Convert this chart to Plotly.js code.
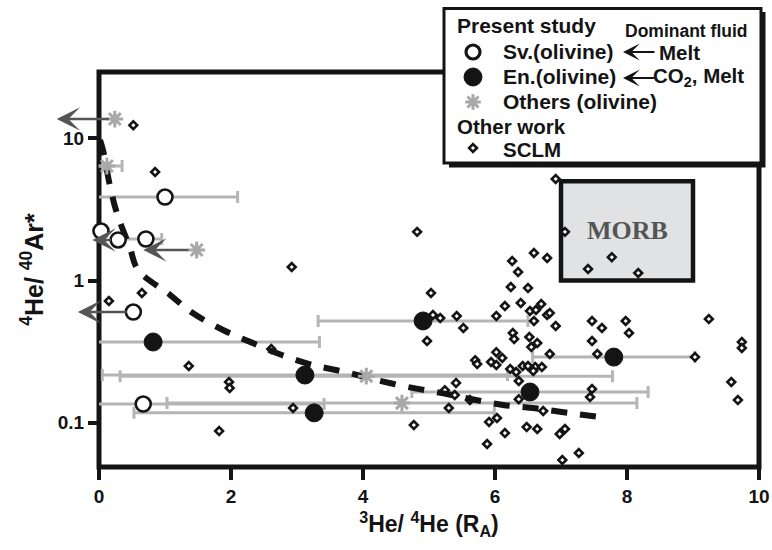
<!DOCTYPE html>
<html>
<head>
<meta charset="utf-8">
<script src="https://cdn.plot.ly/plotly-3.0.1.min.js"></script>
<style>html,body{margin:0;padding:0;background:#fff;}#chart{width:772px;height:550px;}</style>
</head>
<body>
<div id="chart"></div>
<script>
// ---------- DATA ----------
// Present study: Sv.(olivine)  open circles
const svX = [1.0, 0.03, 0.29, 0.71, 0.52, 0.67];
const svY = [3.87, 2.23, 1.93, 1.96, 0.60, 0.135];
const svErrPlus  = [1.1, 0, 0, 0.24, 0, 2.74];
const svErrMinus = [1.1, 0, 0, 0.44, 0, 2.74];

// Present study: En.(olivine)  filled circles
const enX = [0.82, 3.12, 3.26, 4.91, 6.53, 7.80];
const enY = [0.369, 0.216, 0.117, 0.519, 0.164, 0.289];
const enErr = [2.52, 3.07, 2.73, 1.59, 1.79, 1.23];

// Present study: Others (olivine)  asterisks
const othX = [0.24, 0.12, 1.48, 4.05, 4.59];
const othY = [13.7, 6.4, 1.64, 0.212, 0.137];
const othErr = [0, 0.23, 0, 3.73, 3.56];

// Upper-limit arrows (3He/4He upper limits)
const arrowY     = [13.7, 1.64, 0.60, 1.93];
const arrowFromX = [0.17, 1.38, 0.44, 0.20];
const arrowToX   = [-0.64, 0.67, -0.32, -0.10];

// Other work: SCLM
const sclmX = [0.52,0.85,0.15,0.65,1.36,1.97,1.98,1.82,2.92,4.82,2.61,2.94,
  5.03,5.06,5.17,5.42,5.52,4.97,6.02,4.77,
  6.24,6.50,6.15,6.39,6.53,6.62,6.70,6.59,6.79,
  6.59,6.79,6.26,6.35,
  6.27,6.29,6.52,6.64,6.55,
  5.70,5.73,6.02,5.94,6.11,6.02,6.23,6.32,6.42,6.50,6.61,6.71,6.58,
  6.36,5.41,5.39,5.24,6.36,5.62,5.30,6.73,5.91,6.03,6.15,6.48,6.64,5.88,
  6.83,6.92,7.47,7.62,7.98,8.03,7.47,6.83,7.55,7.47,7.44,6.98,7.06,7.27,7.02,
  6.92,7.06,7.77,7.41,8.17,
  9.24,9.74,9.74,9.58,9.68,9.03];
const sclmY = [12.4,5.81,0.717,0.817,0.250,0.193,0.175,0.0871,1.245,2.20,0.330,0.1265,
  0.817,0.572,0.544,0.562,0.463,0.375,0.562,0.096,
  0.90,0.885,0.661,0.694,0.610,0.620,0.683,0.519,0.572,
  1.563,1.44,1.371,1.148,
  0.427,0.387,0.400,0.363,0.340,
  0.275,0.258,0.313,0.267,0.285,0.254,0.238,0.227,0.250,0.250,0.246,0.246,0.231,
  0.196,0.190,0.156,0.169,0.146,0.144,0.1265,0.1205,0.101,0.1076,0.0843,0.0929,0.090,0.0706,
  0.590,0.478,0.519,0.463,0.519,0.427,0.375,0.304,0.304,0.172,0.151,0.083,0.090,0.061,0.0544,
  5.19,2.20,1.46,1.205,1.129,
  0.536,0.369,0.335,0.193,0.144,0.289];

// Dashed trend curve
const curveX = [0.015,0.06,0.17,0.27,0.47,0.59,1.08,1.42,1.88,2.33,2.77,3.24,3.73,4.21,4.68,5.20,5.65,6.12,6.61,7.11,7.67];
const curveY = [9.76,8.3,4.55,2.99,1.69,1.19,0.79,0.59,0.448,0.363,0.299,0.254,0.227,0.199,0.178,0.161,0.146,0.133,0.126,0.117,0.108];

// MORB field
const morbX = [7, 9];
const morbY = [1, 5];

// Axis ticks
const xTicks = [0, 2, 4, 6, 8, 10];
const yTicks = [0.1, 1, 10];
const yTickText = ['0.1', '1', '10'];

// ---------- LAYOUT HELPERS ----------
const W = 772, H = 550, PL = 99, PR = 759, PT = 72, PB = 467;
const fx = p => (p - PL) / (PR - PL);
const fy = p => (PB - p) / (PB - PT);
const FONT = 'Liberation Sans, Arial, Helvetica, sans-serif';
const BAR = '#b5b5b5';
const DARK = '#141414';

const traces = [];
const errStyle = {color: BAR, thickness: 3, width: 6};

traces.push({x: svX, y: svY, type: 'scatter', mode: 'markers', marker: {size: 1, color: 'rgba(0,0,0,0)'},
  error_x: Object.assign({type: 'data', symmetric: false, array: svErrPlus, arrayminus: svErrMinus}, errStyle)});
traces.push({x: enX, y: enY, type: 'scatter', mode: 'markers', marker: {size: 1, color: 'rgba(0,0,0,0)'},
  error_x: Object.assign({type: 'data', symmetric: true, array: enErr}, errStyle)});
traces.push({x: othX, y: othY, type: 'scatter', mode: 'markers', marker: {size: 1, color: 'rgba(0,0,0,0)'},
  error_x: Object.assign({type: 'data', symmetric: true, array: othErr}, errStyle)});

traces.push({x: sclmX, y: sclmY, type: 'scatter', mode: 'markers', name: 'SCLM', cliponaxis: false,
  marker: {symbol: 'diamond', size: 6, color: '#ffffff', line: {color: DARK, width: 2.6}}});

traces.push({x: curveX, y: curveY, type: 'scatter', mode: 'lines',
  line: {color: DARK, width: 6, dash: '16px,13px', shape: 'spline', smoothing: 1}});

traces.push({x: svX, y: svY, type: 'scatter', mode: 'markers', cliponaxis: false,
  marker: {symbol: 'circle', size: 15, color: '#ffffff', line: {color: DARK, width: 2.6}}});
traces.push({x: enX, y: enY, type: 'scatter', mode: 'markers', cliponaxis: false,
  marker: {symbol: 'circle', size: 18, color: DARK, line: {color: DARK, width: 1}}});
traces.push({x: othX, y: othY, type: 'scatter', mode: 'markers', cliponaxis: false,
  marker: {symbol: 'asterisk-open', size: 14, color: '#a8a8a8', line: {color: '#a8a8a8', width: 3}}});

// Legend symbols inside the plot area range (overlay axes in paper units)
const legPxX = 473;
traces.push({
  x: [fx(legPxX)], y: [fy(102)], xaxis: 'x2', yaxis: 'y2', type: 'scatter', mode: 'markers', cliponaxis: false,
  marker: {symbol: 'asterisk-open', size: 13, color: '#a8a8a8', line: {color: '#a8a8a8', width: 3}}
});
traces.push({
  x: [fx(legPxX)], y: [fy(148)], xaxis: 'x2', yaxis: 'y2', type: 'scatter', mode: 'markers', cliponaxis: false,
  marker: {symbol: 'diamond', size: 6, color: '#ffffff', line: {color: DARK, width: 2.6}}
});

const shapes = [
  // MORB field
  {type: 'rect', xref: 'x', yref: 'y', x0: morbX[0], x1: morbX[1], y0: morbY[0], y1: morbY[1],
   fillcolor: '#e1e2e4', line: {color: DARK, width: 4.5}, layer: 'below'},
  // plot frame
  {type: 'rect', xref: 'paper', yref: 'paper', x0: 0, x1: 1, y0: 0, y1: 1,
   line: {color: DARK, width: 5}, fillcolor: 'rgba(0,0,0,0)', layer: 'below'},
  // legend shadow + box
  {type: 'rect', xref: 'paper', yref: 'paper', x0: fx(449), x1: fx(765.5), y0: fy(167.5), y1: fy(12),
   fillcolor: DARK, line: {width: 0}, layer: 'below'},
  {type: 'rect', xref: 'paper', yref: 'paper', x0: fx(444), x1: fx(761), y0: fy(163), y1: fy(8.5),
   fillcolor: '#fff', line: {color: DARK, width: 3}, layer: 'below'},
  // legend symbol: open circle (Sv.)
  {type: 'circle', xref: 'paper', yref: 'paper', xsizemode: 'pixel', ysizemode: 'pixel',
   xanchor: fx(legPxX), yanchor: fy(52), x0: -7, x1: 7, y0: -7, y1: 7,
   fillcolor: '#fff', line: {color: DARK, width: 3.2}, layer: 'above'},
  // legend symbol: filled circle (En.)
  {type: 'circle', xref: 'paper', yref: 'paper', xsizemode: 'pixel', ysizemode: 'pixel',
   xanchor: fx(legPxX), yanchor: fy(77), x0: -9, x1: 9, y0: -9, y1: 9,
   fillcolor: DARK, line: {color: DARK, width: 1}, layer: 'above'}
];

const annotations = [];
function legText(txt, xp, yp, size) {
  annotations.push({xref: 'paper', yref: 'paper', x: fx(xp), y: fy(yp), xanchor: 'left', yanchor: 'middle',
    text: '<b>' + txt + '</b>', showarrow: false, font: {family: FONT, size: size, color: DARK}});
}
legText('Present study', 455, 25, 21);
legText('Dominant fluid', 623, 31, 17.5);
legText('Sv.(olivine)', 501, 52, 21);
legText('Melt', 657, 53, 20.5);
legText('En.(olivine)', 501, 77, 21);
legText('CO<sub>2</sub>, Melt', 651, 77, 20.5);
legText('Others (olivine)', 501, 102, 21);
legText('Other work', 455, 127, 20.5);
legText('SCLM', 501, 149, 20.5);

// legend arrows (pointing left toward labels)
[[623, 52], [623, 78]].forEach(p => {
  annotations.push({xref: 'paper', yref: 'paper', x: fx(p[0]), y: fy(p[1]), ax: 33, ay: 0, text: '',
    showarrow: true, arrowhead: 3, arrowsize: 1.4, arrowwidth: 2, arrowcolor: DARK});
});

// data arrows (upper limits)
arrowY.forEach((yv, i) => {
  annotations.push({xref: 'x', yref: 'y', axref: 'x', ayref: 'y',
    x: arrowToX[i], y: Math.log10(yv), ax: arrowFromX[i], ay: Math.log10(yv), text: '',
    showarrow: true, arrowhead: 3, arrowsize: 1.5, arrowwidth: 2.6, arrowcolor: '#555'});
});

// MORB label
annotations.push({xref: 'x', yref: 'y', x: (morbX[0] + morbX[1]) / 2,
  y: (Math.log10(morbY[0]) + Math.log10(morbY[1])) / 2, showarrow: false,
  text: '<b>MORB</b>', font: {family: 'Liberation Serif, Times New Roman, serif', size: 26, color: '#555'}});

const layout = {
  width: W, height: H,
  margin: {l: PL, r: W - PR, t: PT, b: H - PB, pad: 0},
  paper_bgcolor: '#fff', plot_bgcolor: 'rgba(0,0,0,0)',
  showlegend: false, hovermode: false,
  font: {family: FONT, color: DARK},
  xaxis: {range: [0, 10], tickvals: xTicks, ticks: 'outside', ticklen: 12, tickwidth: 4, tickcolor: DARK,
    showgrid: false, zeroline: false, showline: false,
    tickfont: {family: FONT, size: 19, color: DARK, weight: 'bold'},
    title: {text: '<sup>3</sup>He/ <sup>4</sup>He (R<sub>A</sub>)', standoff: 10,
      font: {family: FONT, size: 23, color: DARK, weight: 'bold'}}},
  yaxis: {type: 'log', range: [-1.313, 1.468], tickvals: yTicks, ticktext: yTickText,
    ticks: 'outside', ticklen: 10, tickwidth: 4, tickcolor: DARK,
    showgrid: false, zeroline: false, showline: false,
    tickfont: {family: FONT, size: 19, color: DARK, weight: 'bold'},
    title: {text: '<sup>4</sup>He/ <sup>40</sup>Ar*', standoff: 7,
      font: {family: FONT, size: 25, color: DARK, weight: 'bold'}}},
  xaxis2: {overlaying: 'x', anchor: 'y2', range: [0, 1], visible: false, fixedrange: true},
  yaxis2: {overlaying: 'y', anchor: 'x2', range: [0, 1], visible: false, fixedrange: true},
  shapes: shapes,
  annotations: annotations
};

Plotly.newPlot('chart', traces, layout, {displayModeBar: false, staticPlot: true});
</script>
</body>
</html>
